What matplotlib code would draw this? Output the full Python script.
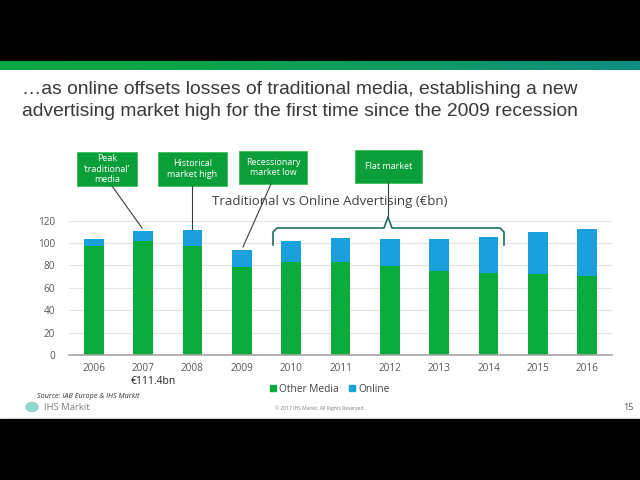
import matplotlib
matplotlib.use("Agg")
import matplotlib.pyplot as plt
import numpy as np
from matplotlib.lines import Line2D
from matplotlib.patches import Rectangle
from matplotlib.colors import LinearSegmentedColormap

years = ["2006", "2007", "2008", "2009", "2010", "2011", "2012", "2013", "2014", "2015", "2016"]
other_media = [97.4, 102.0, 97.4, 78.3, 83.1, 83.1, 79.5, 75.3, 73.6, 72.4, 70.9]
online = [6.5, 8.5, 14.0, 15.5, 18.7, 21.7, 24.1, 28.3, 32.1, 37.2, 42.0]
yticks = [0, 20, 40, 60, 80, 100, 120]

W, H = 640, 480
fig = plt.figure(figsize=(6.4, 4.8), dpi=100)
fig.patch.set_facecolor("white")

def fx(x):
    return x / W

def fy(y):
    return 1 - y / H

T = fig.transFigure

# black bands
fig.add_artist(Rectangle((0, fy(61)), 1, 61 / H, transform=T, color="black", zorder=0))
fig.add_artist(Rectangle((0, 0), 1, fy(419), transform=T, color="black", zorder=0))
# green gradient band
gax = fig.add_axes([0, fy(70), 1, 9 / H])
grad = np.linspace(0, 1, 256).reshape(1, -1)
cmap = LinearSegmentedColormap.from_list("g", ["#0aa846", "#0aa24c", "#0c9a66", "#0f8c80"])
gax.imshow(grad, aspect="auto", cmap=cmap, extent=[0, 1, 0, 1])
gax.axis("off")

# slide title
fig.text(fx(22), fy(90), "\u2026as online offsets losses of traditional media, establishing a new",
         family="Liberation Sans", fontsize=13.9, color="#3a3a3a", va="center", ha="left")
fig.text(fx(22), fy(112), "advertising market high for the first time since the 2009 recession",
         family="Liberation Sans", fontsize=13.9, color="#3a3a3a", va="center", ha="left")

# chart
ax = fig.add_axes([fx(69), fy(355), (612 - 69) / W, (355 - 220.7) / H])
x = np.arange(len(years))
green = "#0bab3e"
blue = "#1aa0dd"
ax.bar(x, other_media, width=0.4, color=green, zorder=3)
ax.bar(x, online, width=0.4, bottom=other_media, color=blue, zorder=3)
ax.set_xlim(-0.5, len(years) - 0.5)
ax.set_ylim(0, 120)
ax.set_yticks(yticks)
ax.set_xticks(x)
ax.set_xticklabels(years)
for s in ["top", "right", "left"]:
    ax.spines[s].set_visible(False)
ax.spines["bottom"].set_color("#a6a6a6")
ax.spines["bottom"].set_linewidth(1.2)
ax.spines["bottom"].set_zorder(4)
ax.yaxis.grid(True, color="#e4e4e4", linewidth=0.8, zorder=0)
ax.tick_params(axis="both", length=0, labelsize=7.2, labelcolor="#595959")
ax.tick_params(axis="y", pad=10)
ax.tick_params(axis="x", pad=6)
for lab in ax.get_xticklabels() + ax.get_yticklabels():
    lab.set_family("Open Sans")
ax.set_facecolor("none")

fig.text(fx(330), fy(201), "Traditional vs Online Advertising (\u20acbn)", family="Open Sans",
         fontsize=9.5, color="#404040", ha="center", va="center")

# legend
h1 = Line2D([], [], marker="s", linestyle="none", color=green, markersize=5)
h2 = Line2D([], [], marker="s", linestyle="none", color=blue, markersize=5)
leg = fig.legend([h1, h2], ["Other Media", "Online"], loc="center", bbox_to_anchor=(fx(330), fy(389)),
                 ncol=2, frameon=False, handlelength=0.6, handletextpad=0.3, columnspacing=1.0,
                 prop={"family": "Open Sans", "size": 7.3})
for t in leg.get_texts():
    t.set_color("#404040")

fig.text(fx(153), fy(381), "\u20ac111.4bn", family="Open Sans", fontsize=7.5, color="#202020",
         ha="center", va="center")

# annotation boxes
boxes = [
    (77, 152, 137, 186, "Peak\n\u2018traditional\u2019\nmedia"),
    (158, 152, 227, 186, "Historical\nmarket high"),
    (239, 151, 307, 184, "Recessionary\nmarket low"),
    (355, 150, 422, 183, "Flat market"),
]
for x0, y0, x1, y1, txt in boxes:
    fig.add_artist(Rectangle((fx(x0), fy(y1)), (x1 - x0) / W, (y1 - y0) / H, transform=T,
                             facecolor="#0c9e3a", edgecolor="#3cbf5c", linewidth=0.6, zorder=5))
    fig.text(fx((x0 + x1) / 2), fy((y0 + y1) / 2), txt, family="Open Sans", fontsize=6.4,
             color="white", ha="center", va="center", linespacing=1.15, zorder=6)

lc = "#34403e"
def seg(xs, ys, color=lc, lw=0.8):
    fig.add_artist(Line2D([fx(v) for v in xs], [fy(v) for v in ys], transform=T, color=color,
                          linewidth=lw, zorder=6))

seg([112, 142], [186, 228])
seg([192, 192], [186, 229])
seg([271, 243], [184, 247])
seg([388, 388], [183, 216])
# brace
bc = "#1e6e5e"
seg([273, 273, 277, 384, 388, 392, 500, 504, 504], [245, 232, 228, 228, 217, 228, 228, 232, 245], color=bc, lw=1.2)

# footer
fig.text(fx(37), fy(397), "Source: IAB Europe & IHS Markit", family="Open Sans", style="italic",
         fontsize=5.2, color="#333333", ha="left", va="center")
fig.add_artist(plt.Circle((fx(32), fy(407)), 6 / W, transform=T, color="#8fd8c8", zorder=3))
fig.text(fx(44), fy(408), "IHS Markit", family="Open Sans", fontsize=6.8, color="#7f7f7f",
         ha="left", va="center")
fig.text(fx(320), fy(408), "\u00a9 2017 IHS Markit. All Rights Reserved.", family="Open Sans",
         fontsize=3.6, color="#7f7f7f", ha="center", va="center")
fig.text(fx(628), fy(408), "15", family="Open Sans", fontsize=6.5, color="#595959",
         ha="center", va="center")

fig.savefig("out.png", dpi=100)
